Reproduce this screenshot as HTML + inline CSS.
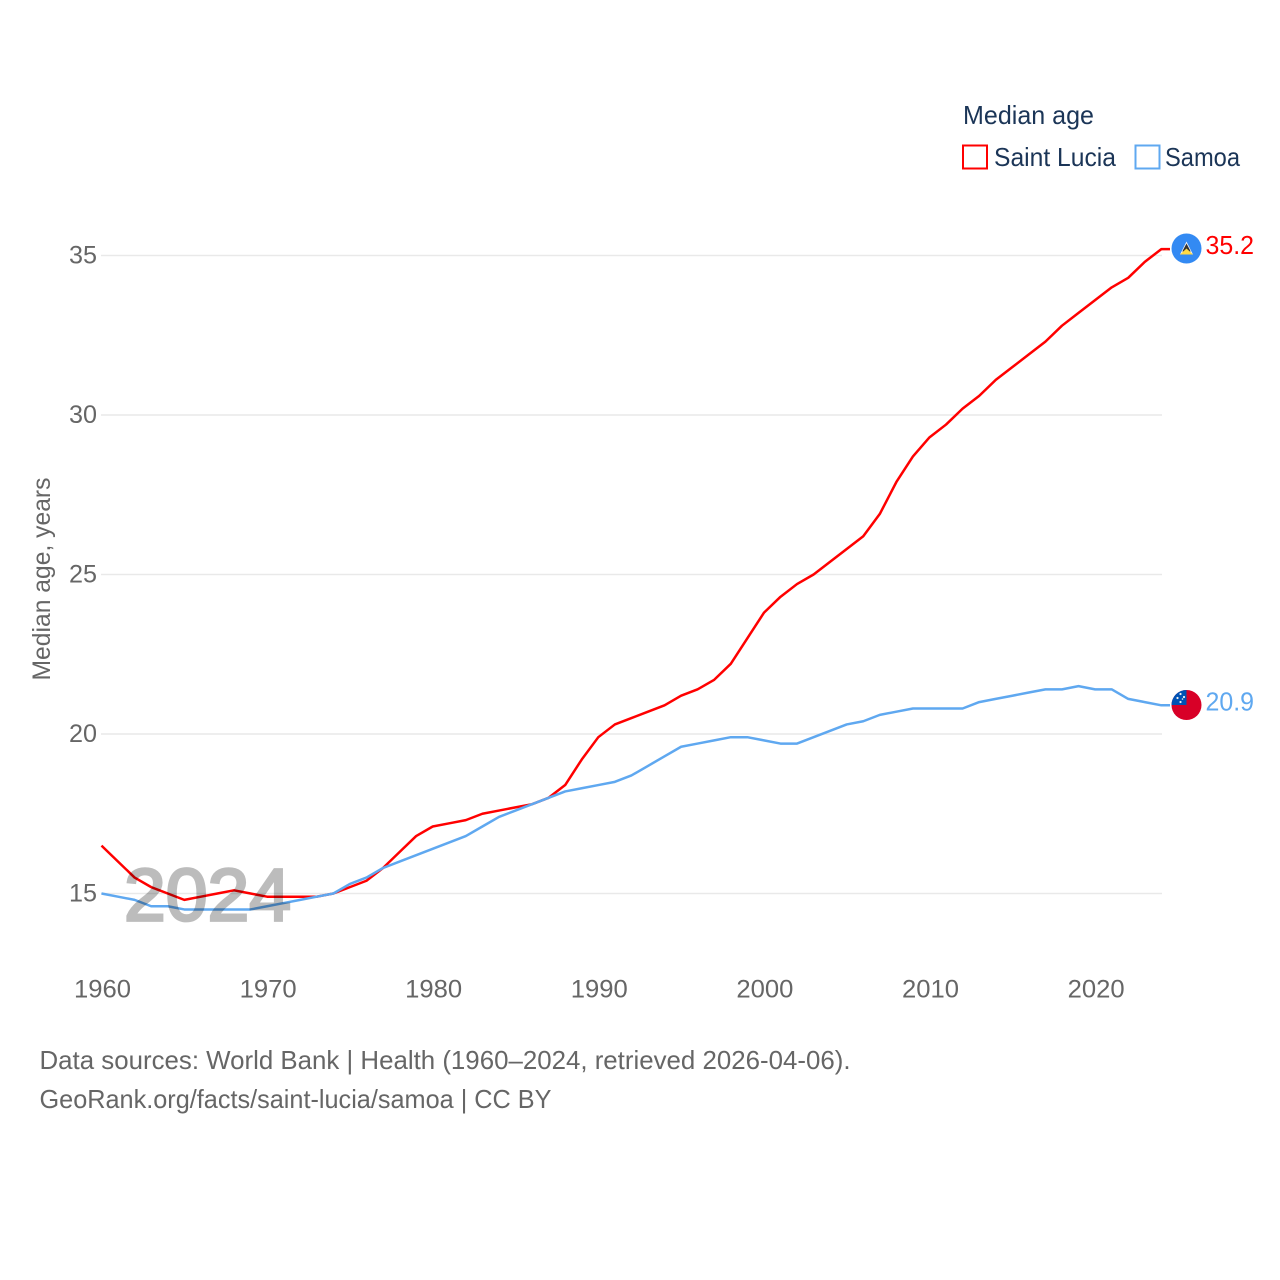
<!DOCTYPE html>
<html lang="en">
<head>
<meta charset="utf-8">
<title>Median age: Saint Lucia and Samoa</title>
<style>
html,body{margin:0;padding:0;background:#fff;width:1280px;height:1280px;overflow:hidden}
svg{display:block}
text{font-family:"Liberation Sans",sans-serif}
</style>
</head>
<body>
<svg id="chart" xmlns="http://www.w3.org/2000/svg" width="1280" height="1280" viewBox="0 0 1280 1280">
  <g id="grid"></g>
  <g id="yticks"></g>
  <g id="xticks"></g>
  <g id="lines"></g>
  <g opacity="0.26">
    <text x="124" y="920.5" font-size="74" fill="#000" stroke="#000" stroke-width="2.8" textLength="167" lengthAdjust="spacingAndGlyphs">2024</text>
  </g>
  <text transform="translate(50,579) rotate(-90)" text-anchor="middle" font-size="25" fill="#666" textLength="203" lengthAdjust="spacingAndGlyphs">Median age, years</text>

  <text x="963" y="124" font-size="26" fill="#1b3557" textLength="131" lengthAdjust="spacingAndGlyphs">Median age</text>
  <rect x="963" y="145.5" width="24" height="23" fill="#fff" stroke="#ff0000" stroke-width="2"/>
  <text x="994" y="166" font-size="26" fill="#1b3557" textLength="122" lengthAdjust="spacingAndGlyphs">Saint Lucia</text>
  <rect x="1135.5" y="145.5" width="24" height="23" fill="#fff" stroke="#5fa8f0" stroke-width="2"/>
  <text x="1165" y="166" font-size="26" fill="#1b3557" textLength="75" lengthAdjust="spacingAndGlyphs">Samoa</text>

  <defs>
    <clipPath id="flag-clip-samoa"><circle cx="0" cy="0" r="15"/></clipPath>
  </defs>
  <g id="flag-saint-lucia">
    <circle cx="0" cy="0" r="15" fill="#338af3"/>
    <polygon points="0,-7 6.5,6 -6.5,6" fill="#f3f3f3"/>
    <polygon points="0,-5 4.2,3 -4.2,3" fill="#333"/>
    <polygon points="0,0 6.5,6 -6.5,6" fill="#ffda44"/>
  </g>
  <g id="flag-samoa">
    <circle cx="0" cy="0" r="15" fill="#d80027"/>
    <rect x="-15" y="-15" width="15" height="15" fill="#0052b4" clip-path="url(#flag-clip-samoa)"/>
    <circle cx="-6" cy="-11" r="1.1" fill="#f0f0f0"/>
    <circle cx="-2.5" cy="-8" r="1.1" fill="#f0f0f0"/>
    <circle cx="-9" cy="-7" r="1.1" fill="#f0f0f0"/>
    <circle cx="-4" cy="-6" r="0.8" fill="#f0f0f0"/>
    <circle cx="-6" cy="-3" r="1.1" fill="#f0f0f0"/>
  </g>
  <text id="value-saint-lucia" x="1205.5" font-size="26" fill="#ff0000" textLength="48.5" lengthAdjust="spacingAndGlyphs"></text>
  <text id="value-samoa" x="1205.5" font-size="26" fill="#5fa8f0" textLength="48.5" lengthAdjust="spacingAndGlyphs"></text>

  <text x="39.5" y="1069" font-size="26" fill="#666" textLength="811" lengthAdjust="spacingAndGlyphs">Data sources: World Bank | Health (1960–2024, retrieved 2026-04-06).</text>
  <text x="39.5" y="1108" font-size="26" fill="#666" textLength="512" lengthAdjust="spacingAndGlyphs">GeoRank.org/facts/saint-lucia/samoa | CC BY</text>
</svg>
<script>
const startYear = 1960;
const yTickValues = [15, 20, 25, 30, 35];
const xTickValues = [1960, 1970, 1980, 1990, 2000, 2010, 2020];
const saintLucia = [16.5,16.0,15.5,15.2,15.0,14.8,14.9,15.0,15.1,15.0,14.9,14.9,14.9,14.9,15.0,15.2,15.4,15.8,16.3,16.8,17.1,17.2,17.3,17.5,17.6,17.7,17.8,18.0,18.4,19.2,19.9,20.3,20.5,20.7,20.9,21.2,21.4,21.7,22.2,23.0,23.8,24.3,24.7,25.0,25.4,25.8,26.2,26.9,27.9,28.7,29.3,29.7,30.2,30.6,31.1,31.5,31.9,32.3,32.8,33.2,33.6,34.0,34.3,34.8,35.2];
const samoa = [15.0,14.9,14.8,14.6,14.6,14.5,14.5,14.5,14.5,14.5,14.6,14.7,14.8,14.9,15.0,15.3,15.5,15.8,16.0,16.2,16.4,16.6,16.8,17.1,17.4,17.6,17.8,18.0,18.2,18.3,18.4,18.5,18.7,19.0,19.3,19.6,19.7,19.8,19.9,19.9,19.8,19.7,19.7,19.9,20.1,20.3,20.4,20.6,20.7,20.8,20.8,20.8,20.8,21.0,21.1,21.2,21.3,21.4,21.4,21.5,21.4,21.4,21.1,21.0,20.9];

const NS = 'http://www.w3.org/2000/svg';
function xScale(year) { return 101.5 + (year - 1960) * 16.56; }
function yScale(v) { return 893.5 - (v - 15) * 31.9; }

const grid = document.getElementById('grid');
const yticks = document.getElementById('yticks');
const xticks = document.getElementById('xticks');
const lines = document.getElementById('lines');

yTickValues.forEach(function (v) {
  const g = document.createElementNS(NS, 'line');
  g.setAttribute('x1', 101);
  g.setAttribute('x2', 1162);
  g.setAttribute('y1', yScale(v));
  g.setAttribute('y2', yScale(v));
  g.setAttribute('stroke', '#e9e9e9');
  g.setAttribute('stroke-width', 1.5);
  
  
  grid.appendChild(g);

  const t = document.createElementNS(NS, 'text');
  t.setAttribute('x', 97);
  t.setAttribute('y', yScale(v) + 8);
  t.setAttribute('text-anchor', 'end');
  t.setAttribute('font-size', 25);
  t.setAttribute('fill', '#666');
  t.setAttribute('textLength', 28);
  t.setAttribute('lengthAdjust', 'spacingAndGlyphs');
  
  
  t.textContent = String(v);
  yticks.appendChild(t);
});

xTickValues.forEach(function (year) {
  const t = document.createElementNS(NS, 'text');
  t.setAttribute('x', xScale(year) + 1);
  t.setAttribute('y', 997.5);
  t.setAttribute('text-anchor', 'middle');
  t.setAttribute('font-size', 25);
  t.setAttribute('fill', '#666');
  t.setAttribute('textLength', 57);
  t.setAttribute('lengthAdjust', 'spacingAndGlyphs');
  
  
  t.textContent = String(year);
  xticks.appendChild(t);
});

function pathFor(values) {
  const pts = values.map(function (v, i) {
    return xScale(startYear + i).toFixed(2) + ',' + yScale(v).toFixed(2);
  });
  const last = values[values.length - 1];
  pts.push('1170,' + yScale(last).toFixed(2));
  return 'M' + pts.join('L');
}

const redLine = document.createElementNS(NS, 'path');
redLine.setAttribute('d', pathFor(saintLucia));
redLine.setAttribute('fill', 'none');
redLine.setAttribute('stroke', '#ff0000');
redLine.setAttribute('stroke-width', 2.5);
redLine.setAttribute('stroke-linejoin', 'round');


lines.appendChild(redLine);

const blueLine = document.createElementNS(NS, 'path');
blueLine.setAttribute('d', pathFor(samoa));
blueLine.setAttribute('fill', 'none');
blueLine.setAttribute('stroke', '#5fa8f0');
blueLine.setAttribute('stroke-width', 2.5);
blueLine.setAttribute('stroke-linejoin', 'round');


lines.appendChild(blueLine);

const lastRed = saintLucia[saintLucia.length - 1];
const lastBlue = samoa[samoa.length - 1];
document.getElementById('flag-saint-lucia').setAttribute('transform', 'translate(1186.5,' + (yScale(lastRed) - 0.6) + ')');
document.getElementById('flag-samoa').setAttribute('transform', 'translate(1186.5,' + (yScale(lastBlue) - 0.3) + ')');
const vr = document.getElementById('value-saint-lucia');
vr.setAttribute('y', yScale(lastRed) + 5);
vr.textContent = lastRed.toFixed(1);
const vb = document.getElementById('value-samoa');
vb.setAttribute('y', yScale(lastBlue) + 5);
vb.textContent = lastBlue.toFixed(1);
</script>
</body>
</html>
